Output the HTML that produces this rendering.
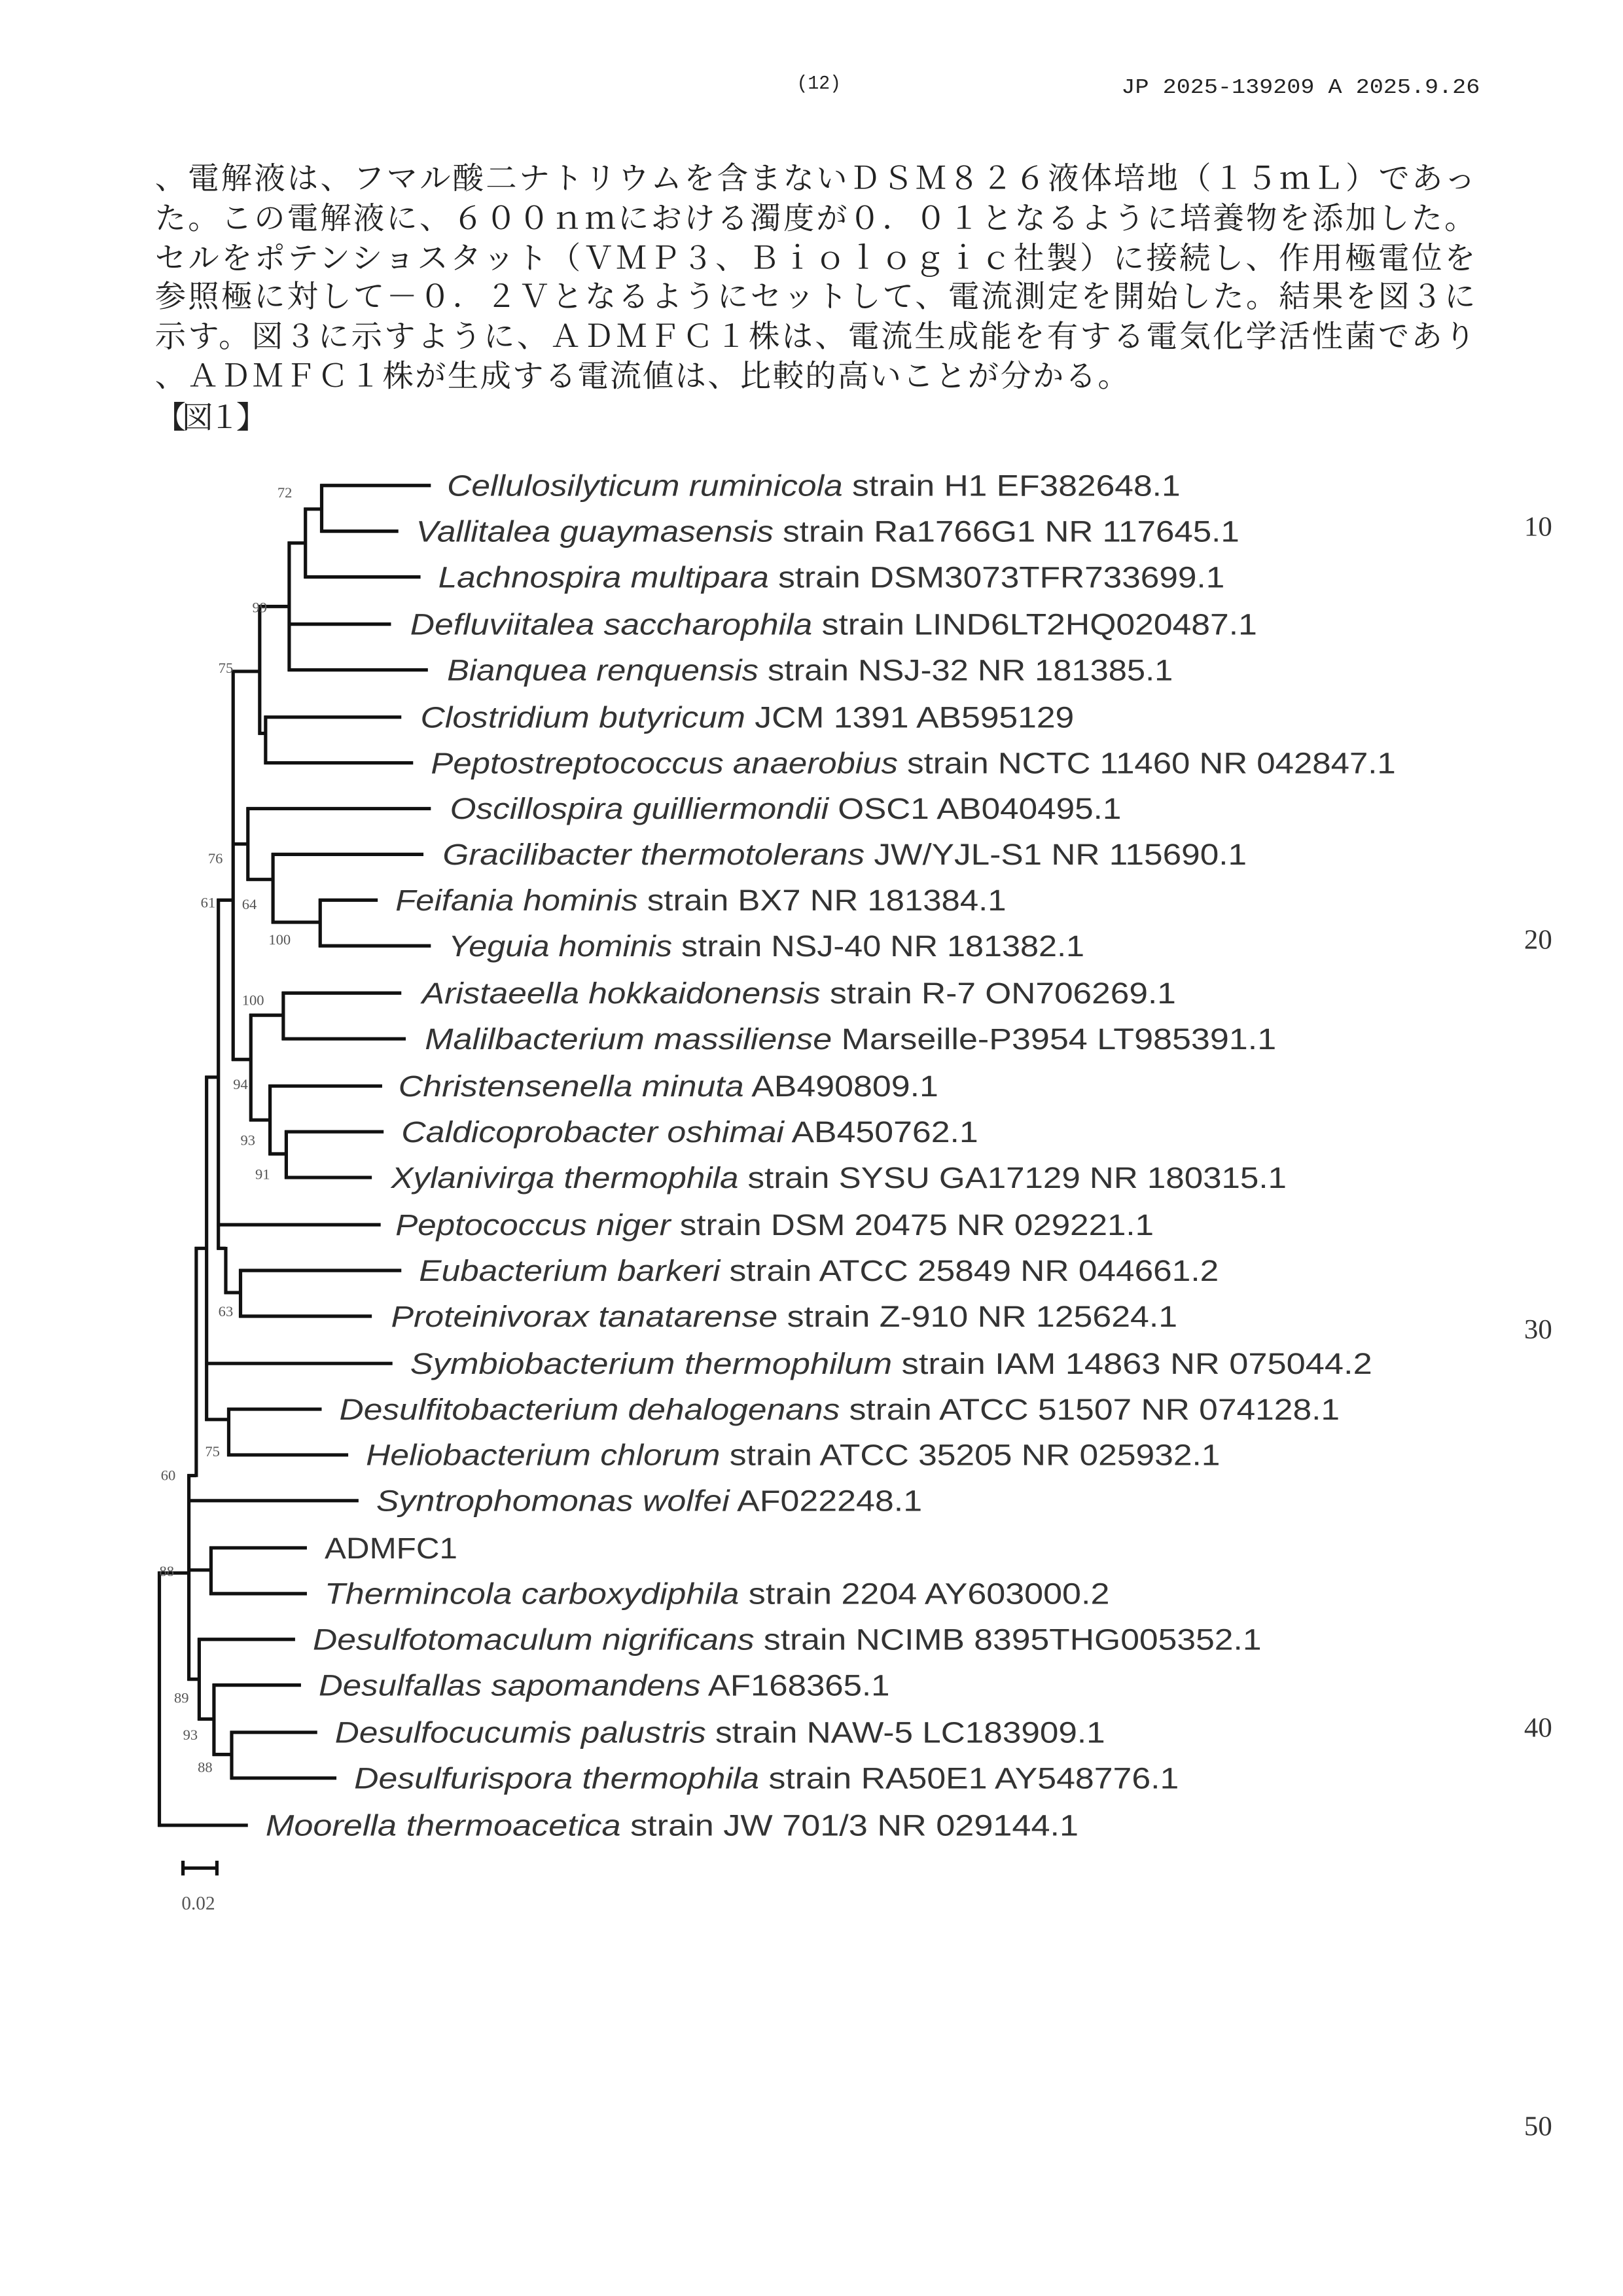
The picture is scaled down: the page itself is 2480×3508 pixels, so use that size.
<!DOCTYPE html>
<html><head><meta charset="utf-8"><style>
html,body{margin:0;padding:0;background:#fff}
svg{display:block}
.j{font-family:"Liberation Serif","Noto Serif CJK JP","Noto Sans CJK JP",serif;font-size:21px;fill:#222}
.h{font-family:"Liberation Mono",monospace;fill:#222}
.n{font-family:"Liberation Serif",serif;font-size:19px;fill:#333}
.l{font-family:"Liberation Sans",sans-serif;font-size:20px;fill:#333}
.b{font-family:"Liberation Serif",serif;font-size:10px;fill:#555}
.t line{stroke:#111;stroke-width:2.3}
</style></head><body>
<svg width="2480" height="3508" viewBox="0 0 1100 1556" xmlns="http://www.w3.org/2000/svg">
<rect width="1100" height="1556" fill="#fff"/>
<text class="h" x="540" y="60" font-size="13" textLength="30" lengthAdjust="spacingAndGlyphs">(12)</text>
<text class="h" x="760" y="63" font-size="14" textLength="243" lengthAdjust="spacingAndGlyphs">JP  2025-139209  A  2025.9.26</text>

<text class="j" x="105" y="128" textLength="895" lengthAdjust="spacing">、電解液は、フマル酸二ナトリウムを含まないＤＳＭ８２６液体培地（１５ｍＬ）であっ</text>
<text class="j" x="105" y="155" textLength="895" lengthAdjust="spacing">た。この電解液に、６００ｎｍにおける濁度が０．０１となるように培養物を添加した。</text>
<text class="j" x="105" y="182" textLength="895" lengthAdjust="spacing">セルをポテンショスタット（ＶＭＰ３、Ｂｉｏｌｏｇｉｃ社製）に接続し、作用極電位を</text>
<text class="j" x="105" y="208" textLength="895" lengthAdjust="spacing">参照極に対して－０．２Ｖとなるようにセットして、電流測定を開始した。結果を図３に</text>
<text class="j" x="105" y="235" textLength="895" lengthAdjust="spacing">示す。図３に示すように、ＡＤＭＦＣ１株は、電流生成能を有する電気化学活性菌であり</text>
<text class="j" x="105" y="262" textLength="660" lengthAdjust="spacing">、ＡＤＭＦＣ１株が生成する電流値は、比較的高いことが分かる。</text>
<text class="j" x="105" y="290" textLength="76" lengthAdjust="spacing">【図１】</text>

<text class="n" x="1033" y="363">10</text>
<text class="n" x="1033" y="643">20</text>
<text class="n" x="1033" y="907">30</text>
<text class="n" x="1033" y="1177">40</text>
<text class="n" x="1033" y="1447">50</text>

<g class="t">
<!-- top clade -->
<line x1="218" y1="328" x2="218" y2="361"/>
<line x1="217" y1="329" x2="292" y2="329"/><line x1="217" y1="360" x2="270" y2="360"/>
<line x1="207" y1="344" x2="207" y2="392"/><line x1="206" y1="345" x2="218" y2="345"/><line x1="206" y1="391" x2="285" y2="391"/>
<line x1="196" y1="367" x2="196" y2="455"/><line x1="195" y1="368" x2="207" y2="368"/><line x1="195" y1="423" x2="265" y2="423"/><line x1="195" y1="454" x2="290" y2="454"/>
<line x1="176" y1="410" x2="176" y2="498"/><line x1="175" y1="411" x2="196" y2="411"/>
<line x1="180" y1="485" x2="180" y2="518"/><line x1="175" y1="497" x2="180" y2="497"/><line x1="179" y1="486" x2="272" y2="486"/><line x1="179" y1="517" x2="280" y2="517"/>
<line x1="158" y1="454" x2="158" y2="719"/><line x1="157" y1="455" x2="176" y2="455"/>
<line x1="168" y1="547" x2="168" y2="597"/><line x1="157" y1="572" x2="168" y2="572"/><line x1="167" y1="548" x2="292" y2="548"/>
<line x1="185" y1="578" x2="185" y2="626"/><line x1="167" y1="596" x2="185" y2="596"/><line x1="184" y1="579" x2="287" y2="579"/>
<line x1="217" y1="609" x2="217" y2="642"/><line x1="184" y1="625" x2="217" y2="625"/><line x1="216" y1="610" x2="256" y2="610"/><line x1="216" y1="641" x2="292" y2="641"/>
<!-- middle -->
<line x1="170" y1="687" x2="170" y2="760"/><line x1="157" y1="718" x2="170" y2="718"/>
<line x1="192" y1="672" x2="192" y2="705"/><line x1="169" y1="688" x2="192" y2="688"/><line x1="191" y1="673" x2="272" y2="673"/><line x1="191" y1="704" x2="275" y2="704"/>
<line x1="183" y1="735" x2="183" y2="783"/><line x1="169" y1="759" x2="183" y2="759"/><line x1="182" y1="736" x2="259" y2="736"/>
<line x1="194" y1="766" x2="194" y2="799"/><line x1="182" y1="782" x2="194" y2="782"/><line x1="193" y1="767" x2="260" y2="767"/><line x1="193" y1="798" x2="252" y2="798"/>
<line x1="148" y1="609" x2="148" y2="847"/><line x1="147" y1="610" x2="158" y2="610"/><line x1="147" y1="830" x2="258" y2="830"/>
<line x1="153" y1="845" x2="153" y2="877"/><line x1="147" y1="846" x2="153" y2="846"/>
<line x1="163" y1="860" x2="163" y2="893"/><line x1="152" y1="876" x2="163" y2="876"/><line x1="162" y1="861" x2="272" y2="861"/><line x1="162" y1="892" x2="252" y2="892"/>
<line x1="140" y1="729" x2="140" y2="963"/><line x1="139" y1="730" x2="148" y2="730"/><line x1="139" y1="924" x2="266" y2="924"/>
<line x1="155" y1="954" x2="155" y2="987"/><line x1="139" y1="962" x2="155" y2="962"/><line x1="154" y1="955" x2="218" y2="955"/><line x1="154" y1="986" x2="236" y2="986"/>
<line x1="133" y1="845" x2="133" y2="1001"/><line x1="132" y1="846" x2="140" y2="846"/>
<!-- lower -->
<line x1="128" y1="999" x2="128" y2="1139"/><line x1="127" y1="1000" x2="133" y2="1000"/><line x1="127" y1="1017" x2="243" y2="1017"/>
<line x1="143" y1="1048" x2="143" y2="1081"/><line x1="127" y1="1064" x2="143" y2="1064"/><line x1="142" y1="1049" x2="208" y2="1049"/><line x1="142" y1="1080" x2="208" y2="1080"/>
<line x1="135" y1="1110" x2="135" y2="1166"/><line x1="127" y1="1138" x2="135" y2="1138"/><line x1="134" y1="1111" x2="200" y2="1111"/>
<line x1="145" y1="1141" x2="145" y2="1190"/><line x1="134" y1="1165" x2="145" y2="1165"/><line x1="144" y1="1142" x2="204" y2="1142"/>
<line x1="157" y1="1173" x2="157" y2="1206"/><line x1="144" y1="1189" x2="157" y2="1189"/><line x1="156" y1="1174" x2="215" y2="1174"/><line x1="156" y1="1205" x2="228" y2="1205"/>
<line x1="108" y1="1065" x2="108" y2="1238"/><line x1="107" y1="1066" x2="128" y2="1066"/><line x1="107" y1="1237" x2="168" y2="1237"/>
<!-- scale -->
<line x1="124" y1="1266" x2="147" y2="1266"/><line x1="124" y1="1261" x2="124" y2="1271"/><line x1="147" y1="1261" x2="147" y2="1271"/>
</g>
<text x="123" y="1294" font-family="Liberation Serif,serif" font-size="13" fill="#555">0.02</text>

<g class="b">
<text x="188" y="337">72</text><text x="171" y="415">99</text><text x="148" y="456">75</text>
<text x="141" y="585">76</text><text x="136" y="615">61</text><text x="164" y="616">64</text>
<text x="182" y="640">100</text><text x="164" y="681">100</text><text x="158" y="738">94</text>
<text x="163" y="776">93</text><text x="173" y="799">91</text><text x="148" y="892">63</text>
<text x="139" y="987">75</text><text x="109" y="1003">60</text><text x="108" y="1068">88</text>
<text x="118" y="1154">89</text><text x="124" y="1179">93</text><text x="134" y="1201">88</text>
</g>

<g class="l">
<text x="303" y="336" textLength="497" lengthAdjust="spacingAndGlyphs"><tspan font-style="italic">Cellulosilyticum ruminicola</tspan> strain H1 EF382648.1</text>
<text x="282" y="367" textLength="558" lengthAdjust="spacingAndGlyphs"><tspan font-style="italic">Vallitalea guaymasensis</tspan> strain Ra1766G1 NR 117645.1</text>
<text x="297" y="398" textLength="533" lengthAdjust="spacingAndGlyphs"><tspan font-style="italic">Lachnospira multipara</tspan> strain DSM3073TFR733699.1</text>
<text x="278" y="430" textLength="574" lengthAdjust="spacingAndGlyphs"><tspan font-style="italic">Defluviitalea saccharophila</tspan> strain LIND6LT2HQ020487.1</text>
<text x="303" y="461" textLength="492" lengthAdjust="spacingAndGlyphs"><tspan font-style="italic">Bianquea renquensis</tspan> strain NSJ-32 NR 181385.1</text>
<text x="285" y="493" textLength="443" lengthAdjust="spacingAndGlyphs"><tspan font-style="italic">Clostridium butyricum</tspan> JCM 1391 AB595129</text>
<text x="292" y="524" textLength="654" lengthAdjust="spacingAndGlyphs"><tspan font-style="italic">Peptostreptococcus anaerobius</tspan> strain NCTC 11460 NR 042847.1</text>
<text x="305" y="555" textLength="455" lengthAdjust="spacingAndGlyphs"><tspan font-style="italic">Oscillospira guilliermondii</tspan> OSC1 AB040495.1</text>
<text x="300" y="586" textLength="545" lengthAdjust="spacingAndGlyphs"><tspan font-style="italic">Gracilibacter thermotolerans</tspan> JW/YJL-S1 NR 115690.1</text>
<text x="268" y="617" textLength="414" lengthAdjust="spacingAndGlyphs"><tspan font-style="italic">Feifania hominis</tspan> strain BX7 NR 181384.1</text>
<text x="304" y="648" textLength="431" lengthAdjust="spacingAndGlyphs"><tspan font-style="italic">Yeguia hominis</tspan> strain NSJ-40 NR 181382.1</text>
<text x="286" y="680" textLength="511" lengthAdjust="spacingAndGlyphs"><tspan font-style="italic">Aristaeella hokkaidonensis</tspan> strain R-7 ON706269.1</text>
<text x="288" y="711" textLength="577" lengthAdjust="spacingAndGlyphs"><tspan font-style="italic">Malilbacterium massiliense</tspan> Marseille-P3954 LT985391.1</text>
<text x="270" y="743" textLength="366" lengthAdjust="spacingAndGlyphs"><tspan font-style="italic">Christensenella minuta</tspan> AB490809.1</text>
<text x="272" y="774" textLength="391" lengthAdjust="spacingAndGlyphs"><tspan font-style="italic">Caldicoprobacter oshimai</tspan> AB450762.1</text>
<text x="265" y="805" textLength="607" lengthAdjust="spacingAndGlyphs"><tspan font-style="italic">Xylanivirga thermophila</tspan> strain SYSU GA17129 NR 180315.1</text>
<text x="268" y="837" textLength="514" lengthAdjust="spacingAndGlyphs"><tspan font-style="italic">Peptococcus niger</tspan> strain DSM 20475 NR 029221.1</text>
<text x="284" y="868" textLength="542" lengthAdjust="spacingAndGlyphs"><tspan font-style="italic">Eubacterium barkeri</tspan> strain ATCC 25849 NR 044661.2</text>
<text x="265" y="899" textLength="533" lengthAdjust="spacingAndGlyphs"><tspan font-style="italic">Proteinivorax tanatarense</tspan> strain Z-910 NR 125624.1</text>
<text x="278" y="931" textLength="652" lengthAdjust="spacingAndGlyphs"><tspan font-style="italic">Symbiobacterium thermophilum</tspan> strain IAM 14863 NR 075044.2</text>
<text x="230" y="962" textLength="678" lengthAdjust="spacingAndGlyphs"><tspan font-style="italic">Desulfitobacterium dehalogenans</tspan> strain ATCC 51507 NR 074128.1</text>
<text x="248" y="993" textLength="579" lengthAdjust="spacingAndGlyphs"><tspan font-style="italic">Heliobacterium chlorum</tspan> strain ATCC 35205 NR 025932.1</text>
<text x="255" y="1024" textLength="370" lengthAdjust="spacingAndGlyphs"><tspan font-style="italic">Syntrophomonas wolfei</tspan> AF022248.1</text>
<text x="220" y="1056" textLength="90" lengthAdjust="spacingAndGlyphs">ADMFC1</text>
<text x="220" y="1087" textLength="532" lengthAdjust="spacingAndGlyphs"><tspan font-style="italic">Thermincola carboxydiphila</tspan> strain 2204 AY603000.2</text>
<text x="212" y="1118" textLength="643" lengthAdjust="spacingAndGlyphs"><tspan font-style="italic">Desulfotomaculum nigrificans</tspan> strain NCIMB 8395THG005352.1</text>
<text x="216" y="1149" textLength="387" lengthAdjust="spacingAndGlyphs"><tspan font-style="italic">Desulfallas sapomandens</tspan> AF168365.1</text>
<text x="227" y="1181" textLength="522" lengthAdjust="spacingAndGlyphs"><tspan font-style="italic">Desulfocucumis palustris</tspan> strain NAW-5 LC183909.1</text>
<text x="240" y="1212" textLength="559" lengthAdjust="spacingAndGlyphs"><tspan font-style="italic">Desulfurispora thermophila</tspan> strain RA50E1 AY548776.1</text>
<text x="180" y="1244" textLength="551" lengthAdjust="spacingAndGlyphs"><tspan font-style="italic">Moorella thermoacetica</tspan> strain JW 701/3 NR 029144.1</text>
</g>
</svg>
</body></html>
